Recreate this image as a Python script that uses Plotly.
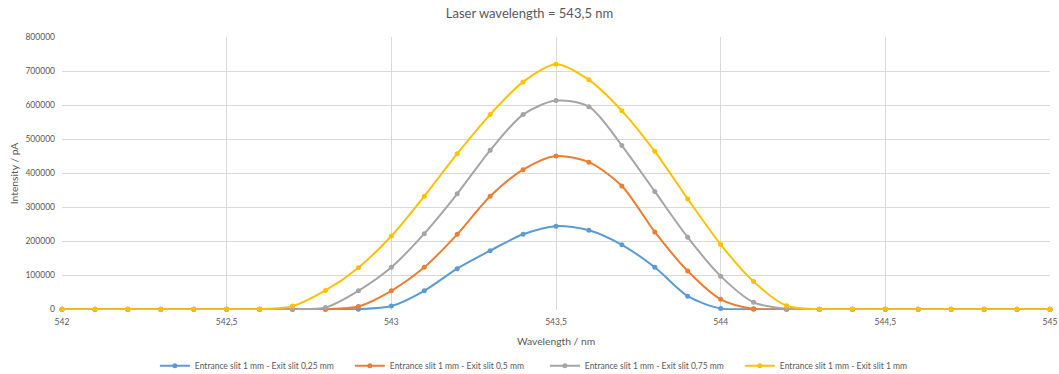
import plotly.graph_objects as go

# Wavelength grid (nm), 0.1 nm steps
wavelength = [round(542.0 + 0.1 * i, 1) for i in range(31)]

# Measured intensity (pA) for each exit-slit width
exit_025 = [0, 0, 0, 0, 0, 0, 0, 0, 0, 0,
            9000, 54000, 119000, 172000, 220000, 244000, 232000, 189000, 123000, 38000,
            2000, 0, 0, 0, 0, 0, 0, 0, 0, 0, 0]
exit_05 = [0, 0, 0, 0, 0, 0, 0, 0, 0, 8000,
           54000, 123000, 220000, 332000, 410000, 450000, 432000, 362000, 227000, 112000,
           29000, 1000, 0, 0, 0, 0, 0, 0, 0, 0, 0]
exit_075 = [0, 0, 0, 0, 0, 0, 0, 0, 5000, 54000,
            123000, 222000, 339000, 467000, 572000, 613000, 595000, 481000, 346000, 211000,
            97000, 20000, 1000, 0, 0, 0, 0, 0, 0, 0, 0]
exit_1 = [0, 0, 0, 0, 0, 0, 0, 9000, 55000, 122000,
          215000, 332000, 457000, 572000, 668000, 720000, 674000, 583000, 464000, 324000,
          190000, 81000, 10000, 0, 0, 0, 0, 0, 0, 0, 0]

series_names = [
    "Entrance slit 1 mm - Exit slit 0,25 mm",
    "Entrance slit 1 mm - Exit slit 0,5 mm",
    "Entrance slit 1 mm - Exit slit 0,75 mm",
    "Entrance slit 1 mm - Exit slit 1 mm",
]
series_values = [exit_025, exit_05, exit_075, exit_1]
colors = ["#5B9BD5", "#ED7D31", "#A5A5A5", "#FFC000"]

x_ticks = [542, 542.5, 543, 543.5, 544, 544.5, 545]
y_ticks = [0, 100000, 200000, 300000, 400000, 500000, 600000, 700000, 800000]

font_family = "Lato, 'Open Sans', sans-serif"
text_gray = "#595959"
grid_gray = "#D9D9D9"

fig = go.Figure()
for name, vals, col in zip(series_names, series_values, colors):
    fig.add_trace(go.Scatter(
        x=wavelength, y=vals, name=name,
        mode="lines+markers", cliponaxis=False,
        line=dict(color=col, width=2, shape="spline", smoothing=0.8),
        marker=dict(color=col, size=5, symbol="circle"),
    ))

fig.update_layout(
    width=1059, height=374,
    margin=dict(l=62, r=9, t=37, b=64, autoexpand=False),
    paper_bgcolor="white", plot_bgcolor="white",
    separators=", ",
    font=dict(family=font_family, color=text_gray, size=9),
    title=dict(text="Laser wavelength = 543,5 nm", x=0.5, xanchor="center",
               y=0.963, yanchor="middle",
               font=dict(family=font_family, size=13, color=text_gray)),
    showlegend=True,
    legend=dict(orientation="h", x=0.094, xanchor="left",
                yref="container", y=0.022, yanchor="middle",
                font=dict(size=8.5, color=text_gray), itemwidth=30,
                entrywidth=150, tracegroupgap=0),
)

fig.update_xaxes(
    range=[542, 545], tickvals=x_ticks,
    showgrid=True, gridcolor=grid_gray, gridwidth=1,
    showline=False, zeroline=False, ticks="",
    ticklabelstandoff=5,
    tickfont=dict(size=8.5, color=text_gray),
    title=dict(text="Wavelength / nm", font=dict(size=10.3, color=text_gray), standoff=12),
)
fig.update_yaxes(
    range=[-2500, 800000], tickvals=y_ticks,
    tickformat="d",
    showgrid=True, gridcolor=grid_gray, gridwidth=1,
    showline=False, zeroline=False, ticks="",
    ticklabelstandoff=6,
    tickfont=dict(size=8.5, color=text_gray),
    title=dict(text="Intensity / pA", font=dict(size=10.3, color=text_gray), standoff=4),
)

fig.write_html("out.html")
